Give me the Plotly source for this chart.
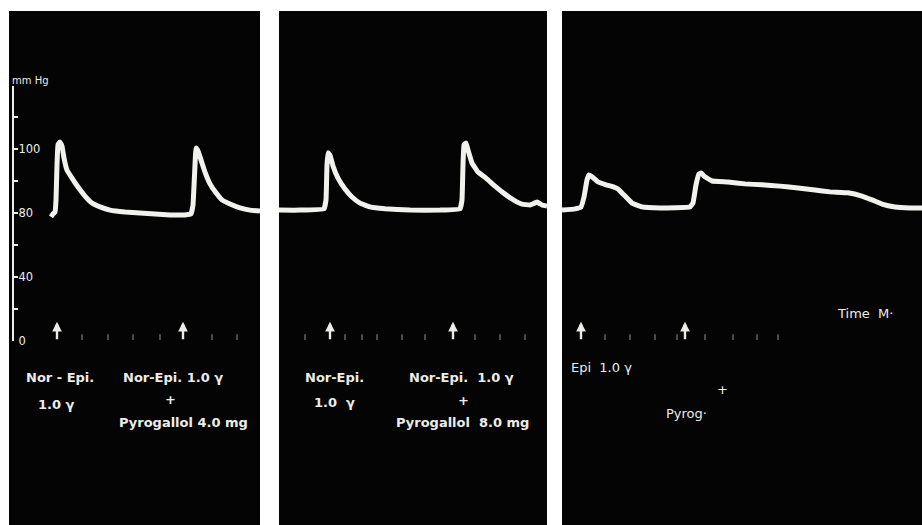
import plotly.graph_objects as go

# ---------------- data ----------------
# x: chart distance along the recording (paper units, per panel); y: pen deflection in scale divisions
p1_x = [42, 44, 46, 47, 48, 49, 51, 53, 55, 58, 63, 69, 76, 83, 91, 101, 116, 131, 146, 161, 176, 182,
        184, 186, 187, 189, 192, 196, 201, 207, 213, 221, 231, 241, 251]
p1_y = [3.88, 3.97, 4.03, 4.41, 5.50, 6.13, 6.22, 6.09, 5.72, 5.34, 5.09, 4.81, 4.53, 4.31, 4.19, 4.09,
        4.03, 4.00, 3.97, 3.94, 3.94, 3.97, 4.25, 5.50, 6.03, 5.94, 5.66, 5.28, 4.91, 4.63, 4.41, 4.28,
        4.16, 4.09, 4.06]

p2_x = [0, 21, 45, 47, 48, 49, 51, 54, 59, 66, 73, 81, 91, 106, 131, 161, 181, 183, 184, 185, 187, 189,
        193, 199, 207, 216, 226, 236, 243, 251, 258, 263, 268]
p2_y = [4.09, 4.09, 4.13, 4.41, 5.50, 5.88, 5.81, 5.47, 5.09, 4.75, 4.50, 4.31, 4.19, 4.13, 4.09, 4.09,
        4.13, 4.41, 5.50, 6.13, 6.19, 5.97, 5.56, 5.28, 5.09, 4.84, 4.59, 4.38, 4.28, 4.25, 4.34, 4.25, 4.22]

p3_x = [0, 13, 19, 22, 25, 27, 30, 36, 44, 52, 56, 62, 70, 80, 98, 128, 131, 134, 137, 139, 143, 150,
        166, 183, 200, 218, 236, 253, 268, 286, 300, 310, 320, 333, 348, 360]
p3_y = [4.09, 4.13, 4.19, 4.50, 5.03, 5.19, 5.13, 4.97, 4.88, 4.81, 4.75, 4.56, 4.31, 4.19, 4.16, 4.19,
        4.31, 4.88, 5.22, 5.25, 5.13, 5.00, 4.97, 4.91, 4.88, 4.84, 4.78, 4.72, 4.66, 4.63, 4.53, 4.41,
        4.28, 4.19, 4.16, 4.16]

# injection arrows (x per panel)
p1_events = [48, 174]
p2_events = [51, 174]
p3_events = [19, 123]

# time signal marks (x per panel)
p1_time = [73, 99, 124, 151, 203, 228]
p2_time = [26, 66, 83, 98, 123, 146, 196, 221, 246]
p3_time = [43, 68, 93, 115, 143, 171, 195, 216]

# pressure scale
scale_vals = [0, 1, 2, 3, 4, 5, 6, 7, 7.97]
scale_text = ["0", "", "40", "", "80", "", "100", "", ""]

# annotation texts
p1_labels = ["Nor - Epi.", "1.0 γ", "Nor-Epi. 1.0 γ", "+", "Pyrogallol 4.0 mg"]
p2_labels = ["Nor-Epi.", "1.0  γ", "Nor-Epi.  1.0 γ", "+", "Pyrogallol  8.0 mg"]
p3_labels = ["Epi  1.0 γ", "+", "Pyrog·", "Time  M·"]

# ---------------- figure ----------------
W, H = 922, 525
fig = go.Figure()

panels = [
    ("x", p1_x, p1_y, p1_events, p1_time),
    ("x2", p2_x, p2_y, p2_events, p2_time),
    ("x3", p3_x, p3_y, p3_events, p3_time),
]

TRACE = "#f1f1ee"
INK = "#ecece8"
FAM = "'DejaVu Sans', sans-serif"

for xa, xs, ys, ev, tm in panels:
    fig.add_trace(go.Scatter(x=xs, y=ys, xaxis=xa, yaxis="y", mode="lines",
                             line=dict(color=TRACE, width=5, shape="spline", smoothing=0.25),
                             hoverinfo="skip", showlegend=False))
    fig.add_trace(go.Scatter(x=tm, y=[0.12] * len(tm), xaxis=xa, yaxis="y", mode="markers",
                             marker=dict(symbol="line-ns", size=4, line=dict(color="#7a7a7a", width=1.2)),
                             hoverinfo="skip", showlegend=False))
    for e in ev:
        fig.add_annotation(x=e, y=0.6, xref=xa, yref="y", text="", showarrow=True,
                           ax=0, ay=19, arrowhead=2, arrowsize=0.8, arrowwidth=2.4, arrowcolor=INK)
    fig.add_shape(type="rect", xref=f"{xa} domain", yref="y domain", x0=0, x1=1, y0=0, y1=1,
                  fillcolor="#040404", line=dict(width=0), layer="below")

# dummy trace to host the pressure scale axis
fig.add_trace(go.Scatter(x=[0], y=[0], xaxis="x", yaxis="y2", mode="markers",
                         marker=dict(opacity=0), hoverinfo="skip", showlegend=False))


def py(pix):
    return (341 - pix) / 32.0


font = dict(family=FAM, size=13, color=INK)

pos1 = [(60, 377), (56, 404), (173, 377), (170, 399), (183, 422)]
for t, (cx, cy) in zip(p1_labels, pos1):
    fig.add_annotation(x=cx - 9, y=py(cy), xref="x", yref="y", text=f"<b>{t}</b>", showarrow=False, font=font)
pos2 = [(334, 377), (334, 402), (461, 377), (463, 400), (462, 422)]
for t, (cx, cy) in zip(p2_labels, pos2):
    fig.add_annotation(x=cx - 279, y=py(cy), xref="x2", yref="y", text=f"<b>{t}</b>", showarrow=False, font=font)
pos3 = [(601, 367), (722, 389), (686, 413), (865, 313)]
f3 = dict(family=FAM, size=13, color=INK)
for t, (cx, cy) in zip(p3_labels, pos3):
    fig.add_annotation(x=cx - 562, y=py(cy), xref="x3", yref="y", text=t, showarrow=False, font=f3)

fig.add_annotation(x=10 / W, y=(H - 80) / H, xref="paper", yref="paper", text="mm Hg", showarrow=False,
                   xanchor="left", yanchor="middle", font=dict(family=FAM, size=10, color=INK))

ax_hidden = dict(showgrid=False, zeroline=False, showticklabels=False, ticks="", showline=False,
                 automargin=False)

fig.update_layout(
    width=W, height=H,
    margin=dict(l=0, r=0, t=0, b=0, autoexpand=False),
    paper_bgcolor="white", plot_bgcolor="rgba(0,0,0,0)",
    showlegend=False,
    xaxis=dict(domain=[9 / W, 260 / W], range=[0, 251], anchor="y", **ax_hidden),
    xaxis2=dict(domain=[279 / W, 547 / W], range=[0, 268], anchor="y", **ax_hidden),
    xaxis3=dict(domain=[562 / W, 1.0], range=[0, 360], anchor="y", **ax_hidden),
    yaxis=dict(domain=[0, 1 - 11 / H], range=[py(525), py(11)], anchor="x", **ax_hidden),
    yaxis2=dict(domain=[(H - 341) / H, (H - 86) / H], range=[0, 7.97], anchor="free", position=13 / W,
                side="left", showline=True, linecolor=INK, linewidth=1.5,
                ticks="inside", ticklen=4, tickcolor=INK, tickwidth=1.5,
                ticklabelposition="inside", ticklabeloverflow="allow", automargin=False,
                tickvals=scale_vals, ticktext=scale_text,
                tickfont=dict(family=FAM, size=11.5, color=INK),
                showgrid=False, zeroline=False),
)

fig.write_html("out.html", config={"displayModeBar": False},
               post_script="document.body.style.margin='0px';document.body.style.overflow='hidden';")
